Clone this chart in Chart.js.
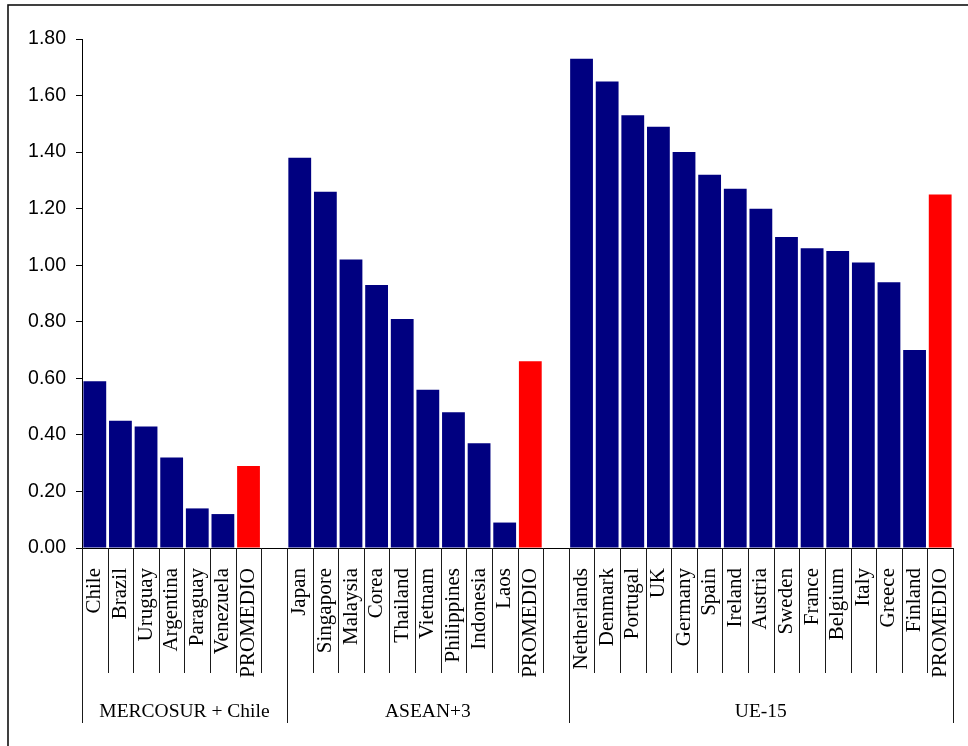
<!DOCTYPE html>
<html>
<head>
<meta charset="utf-8">
<script src="https://cdn.jsdelivr.net/npm/chart.js@4/dist/chart.umd.min.js"></script>
<style>
  html, body { margin: 0; padding: 0; background: #fff; }
  canvas { display: block; }
</style>
</head>
<body>
<canvas id="chart" width="968" height="746"></canvas>
<script>
// Country blocks, each ending with the block average (PROMEDIO)
const mercosurCountries = ['Chile', 'Brazil', 'Uruguay', 'Argentina', 'Paraguay', 'Venezuela', 'PROMEDIO'];
const mercosurValues = [0.59, 0.45, 0.43, 0.32, 0.14, 0.12, 0.29];

const aseanCountries = ['Japan', 'Singapore', 'Malaysia', 'Corea', 'Thailand', 'Vietnam', 'Philippines', 'Indonesia', 'Laos', 'PROMEDIO'];
const aseanValues = [1.38, 1.26, 1.02, 0.93, 0.81, 0.56, 0.48, 0.37, 0.09, 0.66];

const ueCountries = ['Netherlands', 'Denmark', 'Portugal', 'UK', 'Germany', 'Spain', 'Ireland', 'Austria', 'Sweden', 'France', 'Belgium', 'Italy', 'Greece', 'Finland', 'PROMEDIO'];
const ueValues = [1.73, 1.65, 1.53, 1.49, 1.40, 1.32, 1.27, 1.20, 1.10, 1.06, 1.05, 1.01, 0.94, 0.70, 1.25];

const groupNames = ['MERCOSUR + Chile', 'ASEAN+3', 'UE-15'];
const averageLabel = 'PROMEDIO';

const yMin = 0;
const yMax = 1.8;
const yStep = 0.2;

// Flatten the blocks into one category axis with an empty slot between blocks
const blocks = [
  { name: groupNames[0], countries: mercosurCountries, values: mercosurValues },
  { name: groupNames[1], countries: aseanCountries, values: aseanValues },
  { name: groupNames[2], countries: ueCountries, values: ueValues }
];

const labels = [];
const values = [];
const groupSpans = []; // [startSlot, endSlot) per block, including its trailing gap
blocks.forEach((b, i) => {
  const start = labels.length;
  b.countries.forEach((c, j) => { labels.push(c); values.push(b.values[j]); });
  if (i < blocks.length - 1) { labels.push(''); values.push(null); }
  groupSpans.push({ name: b.name, start: start, end: labels.length });
});

const NAVY = '#000080';
const RED = '#FF0000';
const barColors = labels.map(l => l === averageLabel ? RED : NAVY);

const SERIF = '"Liberation Serif", "Times New Roman", serif';
const SANS = '"Liberation Sans", Arial, sans-serif';

// Separator ticks below the axis, block dividers, block names and the outer frame
const groupAxis = {
  id: 'groupAxis',
  beforeDraw(chart) {
    const ctx = chart.ctx;
    ctx.save();
    ctx.fillStyle = '#fff';
    ctx.fillRect(0, 0, chart.width, chart.height);
    ctx.restore();
  },
  afterDraw(chart) {
    const ctx = chart.ctx;
    const xs = chart.scales.x;
    const top = xs.top;
    const longBounds = new Set();
    groupSpans.forEach(g => { longBounds.add(g.start); longBounds.add(g.end); });

    ctx.save();
    ctx.strokeStyle = '#1a1a1a';
    ctx.lineWidth = 1;
    for (let b = 0; b <= labels.length; b++) {
      const px = Math.round(xs.getPixelForValue(b - 0.5)) + 0.5;
      const len = longBounds.has(b) ? 175 : 125;
      ctx.beginPath();
      ctx.moveTo(px, top);
      ctx.lineTo(px, top + len);
      ctx.stroke();
    }

    ctx.fillStyle = '#000';
    ctx.font = '19.5px ' + SERIF;
    ctx.textAlign = 'center';
    ctx.textBaseline = 'middle';
    groupSpans.forEach(g => {
      const x0 = xs.getPixelForValue(g.start - 0.5);
      const x1 = xs.getPixelForValue(g.end - 0.5);
      ctx.fillText(g.name, (x0 + x1) / 2, top + 164);
    });

    // outer frame
    ctx.strokeStyle = '#111';
    ctx.lineWidth = 1.6;
    ctx.strokeRect(8, 5, chart.width + 20, chart.height + 20);
    ctx.restore();
  }
};

new Chart(document.getElementById('chart'), {
  type: 'bar',
  data: {
    labels: labels,
    datasets: [{
      data: values,
      backgroundColor: barColors,
      borderWidth: 0,
      barPercentage: 0.89,
      categoryPercentage: 1.0
    }]
  },
  options: {
    responsive: false,
    animation: false,
    devicePixelRatio: 1,
    layout: { padding: { top: 39, right: 15, bottom: 0, left: 0 } },
    plugins: {
      legend: { display: false },
      tooltip: { enabled: false }
    },
    scales: {
      x: {
        type: 'category',
        offset: true,
        grid: { display: false, drawTicks: false },
        border: { display: true, color: '#000', width: 1 },
        ticks: {
          autoSkip: false,
          maxRotation: 90,
          minRotation: 90,
          padding: 20,
          color: '#000',
          font: { family: SERIF, size: 21 }
        },
        afterFit(scale) {
          scale.height = 198;
          scale.paddingLeft = 0;
          scale.paddingRight = 0;
        }
      },
      y: {
        min: yMin,
        max: yMax,
        grid: { display: true, drawOnChartArea: false, drawTicks: true, tickLength: 6, color: '#000' },
        border: { display: true, color: '#000', width: 1 },
        ticks: {
          stepSize: yStep,
          padding: 10,
          color: '#000',
          font: { family: SANS, size: 19.5 },
          callback: v => Number(v).toFixed(2)
        },
        afterFit(scale) { scale.width = 82; }
      }
    }
  },
  plugins: [groupAxis]
});
</script>
</body>
</html>
